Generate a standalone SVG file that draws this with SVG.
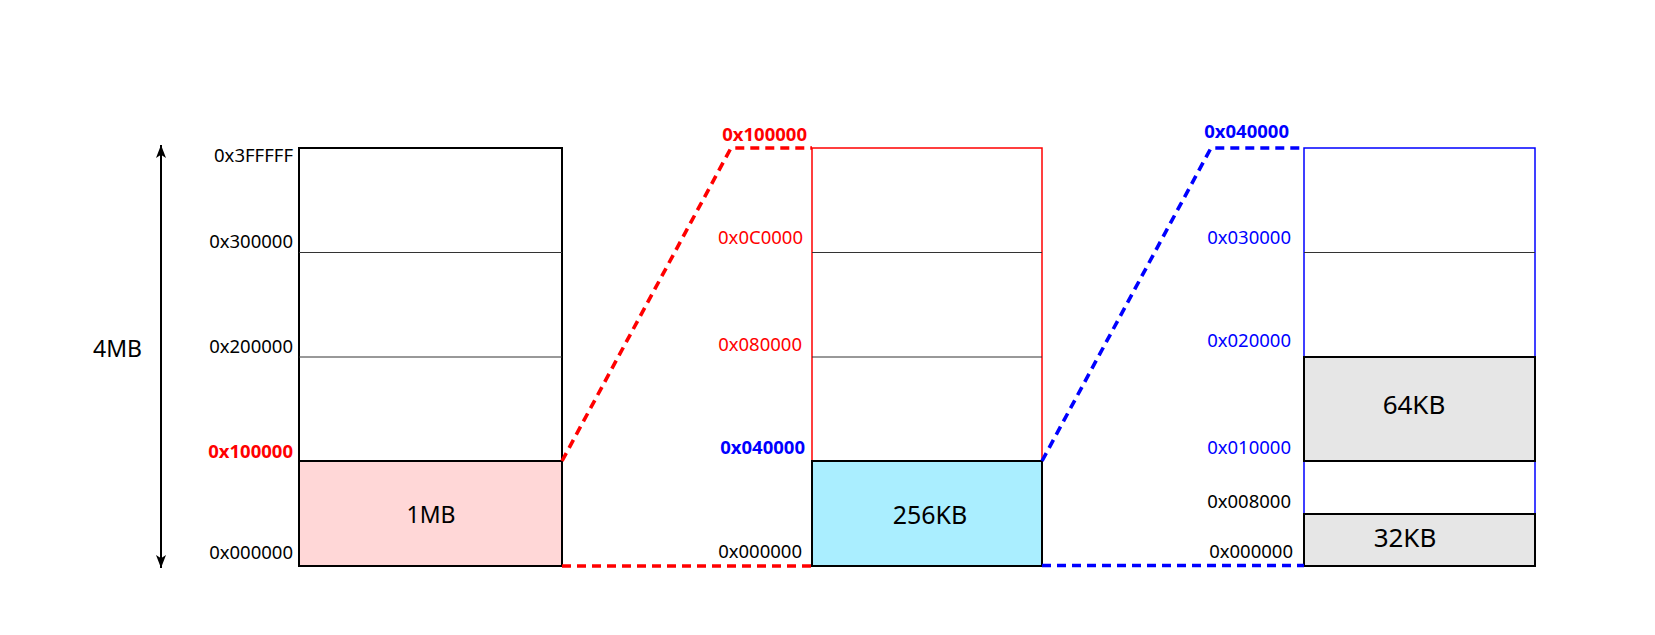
<svg xmlns="http://www.w3.org/2000/svg" width="1655" height="635" viewBox="0 0 1655 635">
<style>
.lbl{font-family:"Noto Sans","Open Sans",sans-serif;font-size:18.5px;text-anchor:end}
.b{font-weight:bold}
.big{font-family:"Noto Sans","Open Sans",sans-serif;text-anchor:middle}
.red{fill:#FF0000}.blue{fill:#0000FF}.blk{fill:#000000}
.div{stroke:#333333;stroke-width:1;fill:none}
.blkbox{stroke:#000000;stroke-width:2}
.dash{fill:none;stroke-width:3.6;stroke-dasharray:9 6}
</style>
<defs>
<marker id="ah" viewBox="0 0 12 10" refX="12" refY="5" markerWidth="13" markerHeight="10" markerUnits="userSpaceOnUse" orient="auto-start-reverse" preserveAspectRatio="none">
<path d="M0,0 L12,5 L0,10 L3,5 Z" fill="#000"/>
</marker>
</defs>
<rect width="1655" height="635" fill="#FFFFFF"/>

<g id="size-arrow">
<line x1="161" y1="145" x2="161" y2="568" stroke="#000" stroke-width="2" marker-start="url(#ah)" marker-end="url(#ah)"/>
<text class="big" x="117.5" y="357" font-size="23">4MB</text>
</g>

<g id="map-4mb">
<rect x="299" y="148" width="263" height="418" fill="#FFFFFF" stroke="#000" stroke-width="2"/>
<line class="div" x1="299" y1="252.5" x2="562" y2="252.5"/>
<line class="div" x1="299" y1="357" x2="562" y2="357"/>
<rect class="blkbox" x="299" y="461" width="263" height="105" fill="#FFD7D7"/>
<text class="big" x="431" y="523" font-size="23">1MB</text>
<text class="lbl blk" x="293" y="162">0x3FFFFF</text>
<text class="lbl blk" x="293" y="248">0x300000</text>
<text class="lbl blk" x="293" y="353">0x200000</text>
<text class="lbl b red" x="293" y="458">0x100000</text>
<text class="lbl blk" x="293" y="559">0x000000</text>
</g>

<g id="map-1mb">
<rect x="812" y="148" width="230" height="418" fill="#FFFFFF" stroke="#FF0000" stroke-width="1.5"/>
<line class="div" x1="812" y1="252.5" x2="1042" y2="252.5"/>
<line class="div" x1="812" y1="357" x2="1042" y2="357"/>
<rect class="blkbox" x="812" y="461" width="230" height="105" fill="#AAEEFF"/>
<text class="big" x="930" y="524" font-size="25">256KB</text>
<text class="lbl b red" x="807" y="141">0x100000</text>
<text class="lbl red" x="803" y="244">0x0C0000</text>
<text class="lbl red" x="802" y="351">0x080000</text>
<text class="lbl b blue" x="805" y="454">0x040000</text>
<text class="lbl blk" x="802" y="558">0x000000</text>
</g>

<g id="map-256kb">
<rect x="1304" y="148" width="231" height="418" fill="#FFFFFF" stroke="#0000FF" stroke-width="1.5"/>
<line class="div" x1="1304" y1="252.5" x2="1535" y2="252.5"/>
<rect class="blkbox" x="1304" y="357" width="231" height="104" fill="#E6E6E6"/>
<rect class="blkbox" x="1304" y="514" width="231" height="52" fill="#E6E6E6"/>
<text class="big" x="1414" y="414" font-size="26">64KB</text>
<text class="big" x="1405" y="547" font-size="26">32KB</text>
<text class="lbl b blue" x="1289" y="138">0x040000</text>
<text class="lbl blue" x="1291" y="244">0x030000</text>
<text class="lbl blue" x="1291" y="347">0x020000</text>
<text class="lbl blue" x="1291" y="454">0x010000</text>
<text class="lbl blk" x="1291" y="508">0x008000</text>
<text class="lbl blk" x="1293" y="558">0x000000</text>
</g>

<g id="connectors">
<path class="dash" stroke="#FF0000" d="M562,461 L731,148 L812,148"/>
<path class="dash" stroke="#FF0000" d="M562,566 L812,566"/>
<path class="dash" stroke="#0000FF" d="M1042,461 L1211,148 L1304,148"/>
<path class="dash" stroke="#0000FF" d="M1042,565.5 L1304,565.5"/>
</g>
</svg>
